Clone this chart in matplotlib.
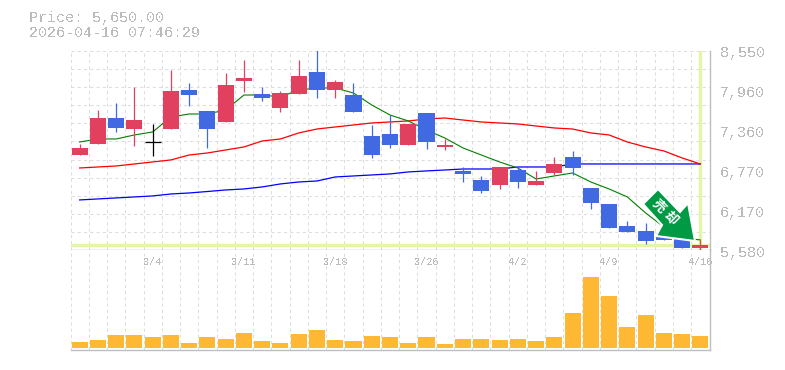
import numpy as np
import matplotlib
matplotlib.use('Agg')
import matplotlib.pyplot as plt
from matplotlib.patches import Polygon

plt.rcParams['font.family'] = ['Liberation Mono', 'DejaVu Sans']

title_price = 'Price: 5,650.00'
title_time = '2026-04-16 07:46:29'
current_price = 5650

# candles, red = up, blue = down, idx 4 is a doji
opens = [6998, 7162, 7550, 7386, 7192, 7386, 7968, 7655, 7491, 8102,
         7908, 7700, 7908, 8237, 7968, 7893, 7282, 7312, 7147, 7625,
         7118, 6760, 6625, 6551, 6774, 6551, 6730, 6968, 6506, 6267,
         5939, 5864, 5834, 5760, 5610]
closes = [7103, 7550, 7401, 7520, 7192, 7953, 7893, 7386, 8043, 8147,
          7849, 7923, 8177, 7968, 8087, 7640, 6998, 7147, 7461, 7192,
          7147, 6715, 6461, 6819, 6595, 6610, 6864, 6804, 6282, 5909,
          5849, 5715, 5730, 5610, 5655]
highs = [7162, 7670, 7774, 8013, 7461, 8267, 8073, 7655, 8222, 8416,
         8013, 7953, 8416, 8565, 8117, 8073, 7446, 7595, 7461, 7625,
         7237, 6819, 6685, 6819, 6819, 6760, 6968, 7058, 6506, 6267,
         6014, 5984, 5834, 5760, 5730]
lows = [6998, 7162, 7342, 7133, 6983, 7386, 7729, 7103, 7491, 7938,
        7804, 7640, 7908, 7849, 7849, 7640, 6954, 7103, 7147, 7088,
        7073, 6595, 6431, 6491, 6506, 6551, 6700, 6700, 6193, 5909,
        5849, 5670, 5730, 5610, 5565]

ma_short = [7192, 7237, 7237, 7297, 7342, 7565, 7610, 7610, 7670, 7893,
            7893, 7864, 7968, 7998, 7998, 7923, 7744, 7595, 7506, 7371,
            7252, 7103, 6998, 6894, 6804, 6640, 6685, 6730, 6595, 6491,
            6372, 6133, 5924, 5760, 5730]
ma_mid = [6804, 6819, 6834, 6864, 6894, 6924, 6998, 7028, 7073, 7118,
          7207, 7237, 7327, 7386, 7416, 7446, 7476, 7491, 7506, 7535,
          7550, 7520, 7491, 7476, 7461, 7431, 7401, 7386, 7327, 7297,
          7192, 7118, 7058, 6954, 6864]
ma_long = [6327, 6342, 6357, 6372, 6387, 6416, 6431, 6453, 6476, 6491,
           6521, 6566, 6595, 6610, 6670, 6685, 6700, 6715, 6745, 6760,
           6774, 6789, 6789, 6789, 6819, 6819, 6819, 6864, 6864, 6864,
           6864, 6864, 6864, 6864, 6864]

volumes = [6, 8, 13, 13, 11, 13, 5, 11, 9, 15, 7, 5, 14, 18, 8, 7, 12, 11,
           5, 11, 4, 9, 9, 8, 9, 7, 11, 35, 71, 52, 21, 33, 15, 14, 12]

date_labels = ['3/4', '3/11', '3/18', '3/26', '4/2', '4/9', '4/16']
date_index = [4, 9, 14, 19, 24, 29, 34]
price_labels = ['8,550', '7,960', '7,360', '6,770', '6,170', '5,580']

RED = '#E2405F'
BLUE = '#4169E1'
BLACK = '#000000'
GRID = '#DDDDDD'
EDGE = '#BFBFBF'
TEXT = '#BBBBBB'
YELLOW = '#E3F6A8'

W, H = 785, 370
fig = plt.figure(figsize=(W / 100, H / 100), dpi=100)


# pixel box -> axes, y measured from the top of the picture
def add_box(left, top, right, bottom):
  return fig.add_axes([left / W, 1 - bottom / H, (right - left) / W, (bottom - top) / H])


ax = add_box(70.5, 51, 709.5, 250)
vol = add_box(70.5, 250, 709.5, 350)
x = np.arange(len(opens))

for a in (ax, vol):
  a.set_xlim(-0.5, 34.5)
  a.set_xticks(np.arange(-0.5, 34.6, 1))
  a.grid(True, axis='x', color=GRID, lw=0.75, ls=(0, (3, 3)))
  a.set_axisbelow(True)
  a.tick_params(left=False, bottom=False, right=False, labelleft=False, labelbottom=False)
  for side in ('top', 'left'):
    a.spines[side].set_visible(False)
  a.spines['right'].set_color(EDGE)
  a.spines['bottom'].set_color(EDGE)
  a.spines['right'].set_linewidth(1.0)
  a.spines['bottom'].set_linewidth(1.0)

# price panel
ax.set_ylim(5580, 8550)
ax.set_yticks(np.linspace(5580, 8550, 12))
ax.grid(True, axis='y', color=GRID, lw=0.75, ls=(0, (3, 3)))

ax.axhline(current_price, color=YELLOW, lw=2.4, zorder=1.5)
ax.axvline(34, color=YELLOW, lw=2.4, zorder=1.5)

ax.plot(x, ma_long, color='#0000FF', lw=0.9, zorder=2)
ax.plot(x, ma_mid, color='#FF0000', lw=0.9, zorder=2)
ax.plot(x, ma_short, color='#008000', lw=0.8, zorder=2)

for i in x:
  if closes[i] > opens[i]:
    c = RED
  elif closes[i] < opens[i]:
    c = BLUE
  else:
    c = BLACK
  ax.vlines(i, lows[i], highs[i], color=c, lw=0.9, zorder=3)
  if c == BLACK:
    ax.hlines(opens[i], i - 0.44, i + 0.44, color=c, lw=0.9, zorder=3)
  else:
    ax.bar(i, abs(closes[i] - opens[i]), bottom=min(opens[i], closes[i]), width=0.88,
           color=c, zorder=3)

# sell arrow, placed in pixels
arrow_px = [(658, 189), (643, 204), (662, 225), (656, 236), (695, 241), (688, 203), (680, 212)]
arrow_xy = [(px, H - py) for px, py in arrow_px]
fig.add_artist(Polygon(arrow_xy, closed=True, transform=None, facecolor='#009944',
                       edgecolor='white', lw=1.5, zorder=5))
fig.text(659 / W, 1 - 206 / H, '売', color='white', fontsize=9.5, fontweight='bold', rotation=-45,
         ha='center', va='center', family=['Noto Sans CJK JP'], zorder=6)
fig.text(671 / W, 1 - 218 / H, '却', color='white', fontsize=9.5, fontweight='bold', rotation=-45,
         ha='center', va='center', family=['Noto Sans CJK JP'], zorder=6)

# volume panel
vol.set_ylim(-2, 98)
vol.set_yticks([])
vol.bar(x, volumes, width=0.88, color='#FFB833', zorder=3)

# texts
fig.text(29 / W, 1 - 18 / H, title_price, color=TEXT, fontsize=10.8, va='center', antialiased=False)
fig.text(29 / W, 1 - 33 / H, title_time, color=TEXT, fontsize=10.8, va='center', antialiased=False)
for label, py in zip(price_labels, [53, 93, 133, 173, 213, 253]):
  fig.text(720 / W, 1 - py / H, label, color=TEXT, fontsize=10.8, va='center', antialiased=False)
for label, i in zip(date_labels, date_index):
  vol.text(i, 1 - 12 / 100, label, color=TEXT, fontsize=7.4, ha='center', va='center',
           transform=vol.get_xaxis_transform(), antialiased=False)

fig.savefig('out.png', dpi=100, facecolor='white')
